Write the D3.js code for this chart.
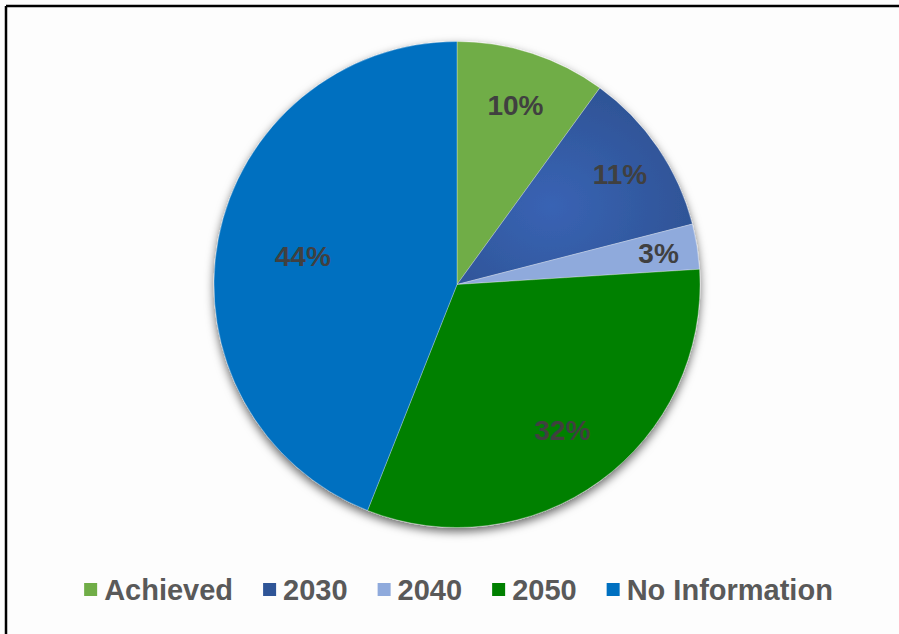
<!DOCTYPE html>
<html>
<head>
<meta charset="utf-8">
<script src="https://cdn.jsdelivr.net/npm/d3@7/dist/d3.min.js"></script>
<style>
  html, body { margin: 0; padding: 0; background: #fdfdfd; }
  svg { display: block; }
</style>
</head>
<body>
<svg id="chart" width="899" height="634"></svg>
<script>
// ---- data ----
const categories = ["Achieved", "2030", "2040", "2050", "No Information"];
const values = [10, 11, 3, 32, 44];
const colors = ["#70AD47", "#2F5597", "#8FAADC", "#008000", "#0070C0"];

// ---- layout ----
const W = 899, H = 634;
const cx = 457, cy = 284.5, R = 243;
const labelRadiusFactor = [0.778, 0.811, 0.84, 0.737, 0.646];

const svg = d3.select("#chart");
svg.append("rect").attr("width", W).attr("height", H).attr("fill", "#fdfdfd");
// frame (top and left edges visible)
svg.append("line").attr("x1", 6).attr("y1", 6).attr("x2", W).attr("y2", 6)
  .attr("stroke", "#000").attr("stroke-width", 2.5);
svg.append("line").attr("x1", 6).attr("y1", 6).attr("x2", 6).attr("y2", H)
  .attr("stroke", "#000").attr("stroke-width", 2.5);

const defs = svg.append("defs");
const f = defs.append("filter").attr("id", "shadow")
  .attr("x", "-20%").attr("y", "-20%").attr("width", "140%").attr("height", "140%");
f.append("feDropShadow").attr("dx", 0).attr("dy", 4).attr("stdDeviation", 5)
  .attr("flood-color", "#000").attr("flood-opacity", 0.6);

const grad = defs.append("radialGradient").attr("id", "g2030")
  .attr("cx", "40%").attr("cy", "60%").attr("r", "70%");
grad.append("stop").attr("offset", "0%").attr("stop-color", "#3963B4");
grad.append("stop").attr("offset", "100%").attr("stop-color", "#2D5292");

const pie = d3.pie().sort(null).value(d => d)(values);
const arc = d3.arc().innerRadius(0).outerRadius(R);

const g = svg.append("g").attr("transform", `translate(${cx},${cy})`);
const sliceG = g.append("g").attr("filter", "url(#shadow)");
sliceG.selectAll("path").data(pie).enter().append("path")
  .attr("d", arc)
  .attr("fill", (d, i) => categories[i] === "2030" ? "url(#g2030)" : colors[i])
  .attr("stroke", "rgba(255,255,255,0.5)")
  .attr("stroke-width", 0.6);

g.selectAll("text.lbl").data(pie).enter().append("text")
  .attr("class", "lbl")
  .attr("transform", (d, i) => {
    const a = (d.startAngle + d.endAngle) / 2;
    const r = R * labelRadiusFactor[i];
    return `translate(${r * Math.sin(a)},${-r * Math.cos(a) + 10.5})`;
  })
  .attr("text-anchor", "middle")
  .attr("font-family", "'Liberation Sans', Arial, sans-serif")
  .attr("font-weight", "bold")
  .attr("font-size", 28)
  .attr("fill", "#404040")
  .text(d => d.value + "%");

// ---- legend ----
const legend = svg.append("g");
const fontSize = 29, marker = 13, gapMT = 7, gapItem = 30;
const items = legend.selectAll("g").data(categories).enter().append("g");
items.append("text")
  .attr("font-family", "'Liberation Sans', Arial, sans-serif")
  .attr("font-weight", "bold")
  .attr("font-size", fontSize)
  .attr("fill", "#595959")
  .attr("y", 600)
  .text(d => d);
let x = 0;
const widths = [];
items.each(function () {
  widths.push(d3.select(this).select("text").node().getComputedTextLength());
});
const total = widths.reduce((s, w) => s + marker + gapMT + w, 0) + gapItem * (widths.length - 1);
x = 458.5 - total / 2;
items.each(function (d, i) {
  const it = d3.select(this);
  it.insert("rect", "text")
    .attr("x", x).attr("y", 583).attr("width", marker).attr("height", marker)
    .attr("fill", colors[i]);
  it.select("text").attr("x", x + marker + gapMT);
  x += marker + gapMT + widths[i] + gapItem;
});
</script>
</body>
</html>
